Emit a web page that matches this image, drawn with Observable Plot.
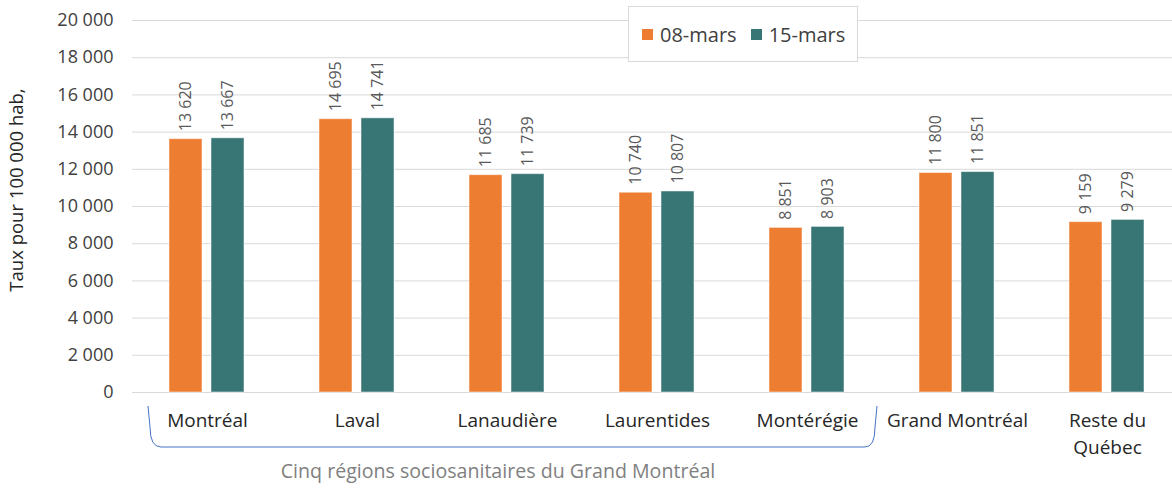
<!DOCTYPE html>
<html>
<head>
<meta charset="utf-8">
<script src="https://cdn.jsdelivr.net/npm/d3@7"></script>
<script src="https://cdn.jsdelivr.net/npm/@observablehq/plot@0.6"></script>
<style>
  html, body { margin: 0; padding: 0; background: #fff; overflow: hidden; }
  #wrap { position: relative; width: 1172px; height: 489px; font-family: "Open Sans", sans-serif; }
  #legend { position: absolute; left: 628px; top: 6px; width: 230px; height: 56px; box-sizing: border-box;
    border: 1px solid #d9d9d9; background: #fff; display: flex; align-items: center; padding-left: 13px;
    font-size: 20px; color: #404040; white-space: nowrap; }
  .item { display: flex; align-items: center; margin-right: 14px; white-space: nowrap; flex: none; }
  .sw { width: 11px; height: 11px; margin-right: 7px; flex: none; }
</style>
</head>
<body>
<div id="wrap"><div id="chart"></div><div id="legend"></div></div>
<script>
const regions = ["Montréal", "Laval", "Lanaudière", "Laurentides", "Montérégie", "Grand Montréal", "Reste du Québec"];
const tickLabels = ["Montréal", "Laval", "Lanaudière", "Laurentides", "Montérégie", "Grand Montréal", "Reste du\nQuébec"];
const series = ["08-mars", "15-mars"];
const values0803 = [13620, 14695, 11685, 10740, 8851, 11800, 9159];
const values1503 = [13667, 14741, 11739, 10807, 8903, 11851, 9279];
const yTicks = [0, 2000, 4000, 6000, 8000, 10000, 12000, 14000, 16000, 18000, 20000];
const colors = ["#ED7D31", "#387676"];
const yLabel = "Taux pour 100 000 hab,";
const caption = "Cinq régions sociosanitaires du Grand Montréal";
const groupedRegions = ["Montréal", "Montérégie"];

const data = [];
regions.forEach((r, i) => {
  data.push({region: r, series: series[0], value: values0803[i]});
  data.push({region: r, series: series[1], value: values1503[i]});
});

const fmt = d3.formatLocale({decimal: ",", thousands: " ", grouping: [3], currency: ["", " $"]}).format(",d");

const plot = Plot.plot({
  width: 1172,
  height: 489,
  marginLeft: 130,
  marginRight: 0,
  marginTop: 20,
  marginBottom: 97,
  style: {fontFamily: "Open Sans, sans-serif", background: "#fff", overflow: "visible"},
  fx: {domain: regions, padding: 0, range: [130, 1183.5], label: null},
  x: {domain: series, paddingInner: 0.209, paddingOuter: 0.854, axis: null},
  y: {domain: [0, 20000], axis: null},
  color: {domain: series, range: colors},
  marks: [
    Plot.gridY(yTicks, {stroke: "#d9d9d9", strokeOpacity: 1, strokeWidth: 1}),
    Plot.axisY({ticks: yTicks, tickFormat: fmt, tickSize: 0, tickPadding: 19, fontSize: 18, fill: "#404040", label: null}),
    Plot.axisFx({anchor: "bottom", tickSize: 0, tickPadding: 15, fontSize: 19, fill: "#262626", lineHeight: 1.42,
      tickFormat: d => tickLabels[regions.indexOf(d)], label: null}),
    Plot.barY(data, {fx: "region", x: "series", y: "value", fill: "series", stroke: "#fff", strokeOpacity: 0.5, strokeWidth: 1}),
    Plot.text(data, {fx: "region", x: "series", y: "value", text: d => fmt(d.value), rotate: -90,
      textAnchor: "start", dy: -8, fontSize: 16, fill: "#595959"})
  ]
});
document.getElementById("chart").appendChild(plot);

// y label, bracket, caption using scales
const svg = d3.select(plot);
const fx = plot.scale("fx");
const bw = fx.bandwidth;
const left = fx.apply(groupedRegions[0]) + 17;
const right = fx.apply(groupedRegions[1]) + bw - 5;
const yTop = 406, yBot = 447;
svg.append("path")
  .attr("d", `M${left - 1},${yTop} L${left + 1},${yBot - 20} Q${left + 1},${yBot} ${left + 12},${yBot} L${right - 12},${yBot} Q${right - 2},${yBot} ${right - 2},${yBot - 20} L${right},${yTop}`)
  .attr("fill", "none").attr("stroke", "#4472C4").attr("stroke-width", 1);
svg.append("text")
  .attr("x", (left + right) / 2 - 15).attr("y", 473)
  .attr("text-anchor", "middle").attr("dominant-baseline", "middle")
  .attr("font-size", 19.6).attr("fill", "#808080").text(caption);
svg.append("text")
  .attr("transform", `translate(18,190) rotate(-90)`)
  .attr("text-anchor", "middle").attr("dominant-baseline", "middle")
  .attr("font-size", 18.5).attr("fill", "#262626").text(yLabel);

// legend
const legend = d3.select("#legend");
series.forEach((s, i) => {
  const it = legend.append("div").attr("class", "item");
  it.append("div").attr("class", "sw").style("background", colors[i]);
  it.append("span").text(s);
});
</script>
</body>
</html>
